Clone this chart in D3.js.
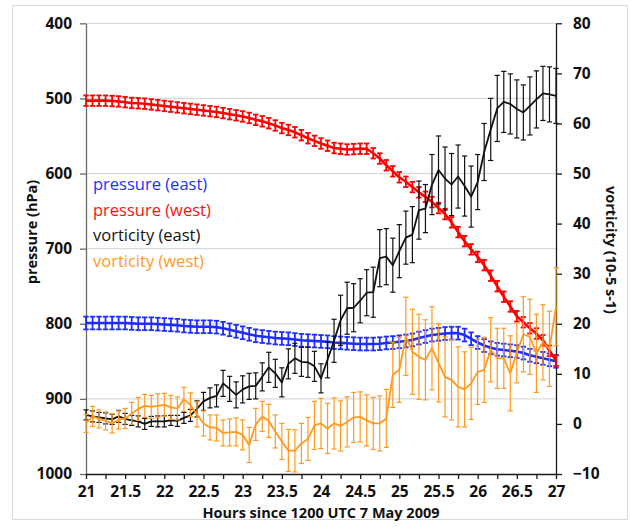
<!DOCTYPE html>
<html>
<head>
<meta charset="utf-8">
<script src="https://cdn.jsdelivr.net/npm/d3@7"></script>
<style>
  html, body { margin: 0; padding: 0; background: #ffffff; }
  svg { display: block; }
  text { font-family: "Open Sans", "Noto Sans", sans-serif; }
</style>
</head>
<body>
<svg id="chart" width="630" height="527"></svg>
<script>
// Time axis: 2-hourly samples from 21 to 27
const hourStart = 21;
const hourStep = 1 / 12;

// Pressure (hPa), left axis
const pressureEast = [
  799, 799, 799, 799, 799, 799, 799, 799.5, 800, 800,
  800, 800.5, 801, 801.5, 802, 803, 803.5, 804, 804, 804,
  804.5, 806, 808, 810, 812, 814, 816, 817, 818, 819,
  819.5, 820, 821, 822, 822.5, 823, 823.5, 824, 825, 825.5,
  826, 826.5, 827, 827, 827, 826.5, 825.5, 825, 824, 823,
  821.5, 819, 817, 815, 814, 813, 812.5, 812.5, 815, 820,
  825, 829, 832, 834, 835, 836, 837, 839, 842, 844,
  846, 848, 850
];
const pressureWest = [
  503, 503, 503, 503, 503.5, 504, 505, 506, 506.5, 507,
  508, 509, 510, 511, 512, 513, 514, 515, 516, 517,
  518, 519.5, 521, 522.5, 524, 526, 528.5, 530.5, 533, 536,
  539.5, 542, 545, 549, 553, 556.5, 560, 563, 566, 567,
  568, 567.5, 567, 567, 573, 580, 589, 597, 605, 611,
  618, 625, 631, 638, 646, 654, 665, 678, 690, 701,
  711, 722, 736, 750, 764, 777, 790, 798, 806, 813,
  822, 836, 849
];
const pressureEastErr = 8.5;
const pressureWestErr = 7;

// Vorticity (10-5 s-1), right axis
const vorticityEast = [
  1.8, 1.5, 1.3, 1.1, 0.9, 1.5, 1.0, 0.7, 0.5, 0.0,
  0.5, 0.5, 0.5, 0.7, 0.6, 1.2, 1.7, 3.0, 4.5, 5.2,
  5.6, 8.1, 7.0, 5.8, 6.9, 7.5, 7.6, 9.4, 11.3, 10.1,
  8.3, 12.0, 13.1, 12.4, 12.3, 11.5, 9.1, 12.8, 16.6, 20.7,
  23.1, 23.2, 24.6, 26.2, 26.3, 33.1, 33.4, 31.7, 34.5, 37.2,
  37.8, 42.7, 43.0, 47.8, 50.7, 49.0, 47.8, 49.4, 47.5, 45.4,
  48.3, 54.3, 58.8, 63.0, 64.3, 63.9, 62.9, 62.2, 63.5, 64.8,
  66.0, 65.8, 65.5
];
const vorticityEastErr = [
  1.0, 1.1, 1.0, 1.1, 1.0, 1.2, 1.1, 1.0, 1.1, 1.1,
  1.0, 1.1, 1.1, 1.0, 1.1, 1.1, 1.2, 1.6, 1.8, 2.0,
  2.2, 2.6, 2.5, 2.6, 2.7, 2.6, 2.6, 2.8, 3.0, 2.8,
  2.9, 3.0, 3.0, 2.9, 3.0, 3.0, 2.9, 3.6, 4.3, 5.0,
  5.2, 4.8, 4.4, 4.6, 5.0, 5.7, 5.6, 5.4, 5.3, 5.3,
  5.6, 5.8, 4.8, 6.0, 6.8, 6.3, 6.2, 6.3, 6.0, 6.1,
  5.5, 5.7, 6.2, 6.6, 6.1, 6.0, 5.8, 5.5, 5.8, 5.7,
  5.4, 5.5, 5.5
];
const vorticityWest = [
  0.1, 1.5, 1.0, 0.6, 0.1, 0.8, 1.1, 2.1, 3.0, 3.6,
  3.4, 3.6, 3.8, 3.3, 3.1, 4.9, 3.8, 1.9, 0.1, -0.7,
  -0.8, -1.8, -1.7, -1.6, -2.2, -4.2, -0.1, 1.5, 0.6, -1.5,
  -3.5, -5.3, -5.4, -3.9, -3.0, -0.3, 0.1, -0.9, 0.1, -0.4,
  0.4, 1.3, 1.4, 0.7, 0.1, 0.1, 1.1, 9.8, 10.8, 17.5,
  14.4, 13.4, 12.8, 15.1, 12.2, 9.4, 8.8, 7.4, 6.9, 8.1,
  10.4, 10.8, 14.8, 13.1, 13.1, 10.1, 14.2, 17.9, 17.4, 14.1,
  16.3, 15.0, 23.4
];
const vorticityWestErr = [
  1.8, 2.0, 1.8, 1.8, 1.9, 1.8, 2.0, 2.2, 2.3, 2.3,
  2.3, 2.4, 2.3, 2.4, 2.3, 2.4, 2.4, 2.5, 2.5, 2.5,
  2.6, 2.6, 2.7, 2.8, 3.0, 3.5, 3.2, 3.0, 3.3, 3.3,
  3.6, 4.2, 4.2, 4.0, 4.3, 4.8, 5.0, 5.0, 5.1, 5.0,
  5.0, 5.0, 5.0, 5.1, 5.2, 5.5, 5.8, 6.5, 6.5, 7.8,
  8.5, 8.5, 8.0, 8.3, 7.8, 8.0, 8.0, 8.0, 7.5, 7.2,
  6.5, 6.5, 6.4, 6.0, 6.0, 7.5, 6.0, 7.5, 7.5, 7.8,
  7.5, 7.5, 7.8
];

// Axis ticks
const hourTicks = [21, 21.5, 22, 22.5, 23, 23.5, 24, 24.5, 25, 25.5, 26, 26.5, 27];
const hourMinorTicks = [21.25, 21.75, 22.25, 22.75, 23.25, 23.75, 24.25, 24.75, 25.25, 25.75, 26.25, 26.75];
const pressureTicks = [400, 500, 600, 700, 800, 900, 1000];
const vorticityTicks = [80, 70, 60, 50, 40, 30, 20, 10, 0, -10];

const legendItems = [
  { label: "pressure (east)", color: "#2030ff" },
  { label: "pressure (west)", color: "#ff1010" },
  { label: "vorticity (east)", color: "#111111" },
  { label: "vorticity (west)", color: "#ff9a20" }
];

// ---- layout ----
const svg = d3.select("#chart");
const plot = { left: 86, right: 556, top: 23.3, bottom: 474 };

const x = d3.scaleLinear().domain([21, 27]).range([plot.left, plot.right]);
const yP = d3.scaleLinear().domain([400, 1000]).range([plot.top, plot.bottom]);
const yV = d3.scaleLinear().domain([80, -10]).range([plot.top, plot.bottom]);

const hourAt = i => hourStart + i * hourStep;

// chart-area frame
svg.append("rect")
  .attr("x", 12.5).attr("y", 5.5)
  .attr("width", 615).attr("height", 514)
  .attr("fill", "#ffffff")
  .attr("stroke", "#d9d9d9").attr("stroke-width", 1);

// horizontal gridlines on the pressure ticks
svg.append("g").selectAll("line")
  .data(pressureTicks.filter(d => d < 1000))
  .join("line")
  .attr("x1", plot.left).attr("x2", plot.right)
  .attr("y1", d => yP(d)).attr("y2", d => yP(d))
  .attr("stroke", "#d9d9d9").attr("stroke-width", 1.3);

// ---- axes ----
const tickFont = "bold 15.5px 'Open Sans', sans-serif";

const leftAxis = svg.append("g")
  .attr("transform", `translate(${plot.left},0)`)
  .call(d3.axisLeft(yP).tickValues(pressureTicks).tickFormat(d3.format("d"))
    .tickSize(6).tickSizeOuter(0).tickPadding(8));
leftAxis.select(".domain").attr("stroke", "#6b6b6b").attr("stroke-width", 1.3);
leftAxis.selectAll(".tick line").attr("stroke", "#6b6b6b").attr("stroke-width", 1.3);
leftAxis.selectAll(".tick text").style("font", tickFont).attr("fill", "#111");

const rightAxis = svg.append("g")
  .attr("transform", `translate(${plot.right},0)`)
  .call(d3.axisRight(yV).tickValues(vorticityTicks).tickSize(6).tickSizeOuter(0).tickPadding(11));
rightAxis.select(".domain").attr("stroke", "#1a1a1a").attr("stroke-width", 1.3);
rightAxis.selectAll(".tick line").attr("stroke", "#1a1a1a").attr("stroke-width", 1.3);
rightAxis.selectAll(".tick text").style("font", tickFont).attr("fill", "#111");

// labelled hour ticks
const bottomAxis = svg.append("g")
  .attr("transform", `translate(0,${plot.bottom})`)
  .call(d3.axisBottom(x).tickValues(hourTicks).tickFormat(d3.format("~g"))
    .tickSize(5).tickSizeOuter(0));
bottomAxis.select(".domain").attr("stroke", "#1a1a1a").attr("stroke-width", 1.3);
bottomAxis.selectAll(".tick line").attr("stroke", "#1a1a1a").attr("stroke-width", 1.3);
bottomAxis.selectAll(".tick text").style("font", tickFont).attr("fill", "#111")
  .attr("y", 12).attr("dy", "0.71em");

// unlabelled quarter ticks
const minorAxis = svg.append("g")
  .attr("transform", `translate(0,${plot.bottom})`)
  .call(d3.axisBottom(x).tickValues(hourMinorTicks).tickFormat(() => null)
    .tickSize(5).tickSizeOuter(0));
minorAxis.select(".domain").remove();
minorAxis.selectAll(".tick text").remove();
minorAxis.selectAll(".tick line").attr("stroke", "#1a1a1a").attr("stroke-width", 1.3);

// axis titles
const titleFont = "bold 14.5px 'Open Sans', sans-serif";
svg.append("text")
  .attr("transform", `translate(37,232) rotate(-90)`)
  .attr("text-anchor", "middle")
  .style("font", titleFont)
  .attr("fill", "#111")
  .text("pressure (hPa)");

svg.append("text")
  .attr("transform", `translate(606,250) rotate(90)`)
  .attr("text-anchor", "middle")
  .style("font", titleFont)
  .attr("fill", "#111")
  .text("vorticity (10-5 s-1)");

svg.append("text")
  .attr("x", (plot.left + plot.right) / 2).attr("y", 518)
  .attr("text-anchor", "middle")
  .style("font", titleFont)
  .attr("fill", "#111")
  .text("Hours since 1200 UTC 7 May 2009");

// ---- series ----
function drawSeries(values, errs, yScale, color, opts) {
  const pts = values.map((v, i) => ({
    t: hourAt(i), v, e: Array.isArray(errs) ? errs[i] : errs
  }));
  const g = svg.append("g");
  const capHalf = opts.capHalf;
  const bars = g.append("g")
    .attr("stroke", color).attr("stroke-width", opts.barWidth).attr("fill", "none");
  const eb = bars.selectAll("g").data(pts).join("g");
  eb.append("line")
    .attr("x1", d => x(d.t)).attr("x2", d => x(d.t))
    .attr("y1", d => yScale(d.v - d.e)).attr("y2", d => yScale(d.v + d.e));
  eb.append("line")
    .attr("x1", d => x(d.t) - capHalf).attr("x2", d => x(d.t) + capHalf)
    .attr("y1", d => yScale(d.v + d.e)).attr("y2", d => yScale(d.v + d.e));
  eb.append("line")
    .attr("x1", d => x(d.t) - capHalf).attr("x2", d => x(d.t) + capHalf)
    .attr("y1", d => yScale(d.v - d.e)).attr("y2", d => yScale(d.v - d.e));
  g.append("path")
    .datum(pts)
    .attr("fill", "none")
    .attr("stroke", color)
    .attr("stroke-width", opts.lineWidth)
    .attr("stroke-linejoin", "round")
    .attr("d", d3.line().x(d => x(d.t)).y(d => yScale(d.v)));
}

drawSeries(pressureEast, pressureEastErr, yP, "#1f2dff", { capHalf: 2.7, barWidth: 1.8, lineWidth: 2.6 });
drawSeries(pressureWest, pressureWestErr, yP, "#ff0000", { capHalf: 2.7, barWidth: 1.8, lineWidth: 2.6 });
drawSeries(vorticityEast, vorticityEastErr, yV, "#111111", { capHalf: 2.6, barWidth: 1.2, lineWidth: 1.8 });
drawSeries(vorticityWest, vorticityWestErr, yV, "#ff9a20", { capHalf: 2.6, barWidth: 1.2, lineWidth: 1.8 });

// ---- legend ----
svg.append("g").selectAll("text")
  .data(legendItems)
  .join("text")
  .attr("x", 93)
  .attr("y", (d, i) => 190 + i * 25.5)
  .style("font", "16.5px 'Open Sans', sans-serif")
  .attr("fill", d => d.color)
  .text(d => d.label);
</script>
</body>
</html>
